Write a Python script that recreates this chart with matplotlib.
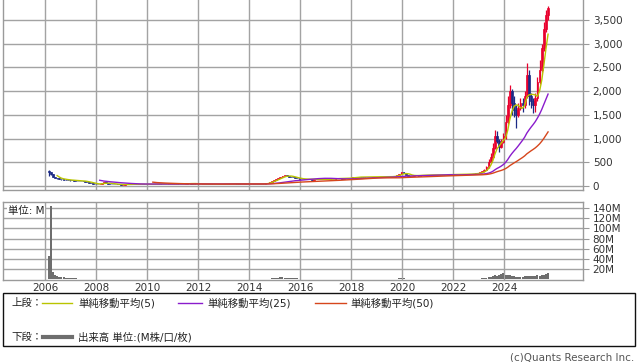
import numpy as np
import pandas as pd
import matplotlib
matplotlib.use('Agg')
import matplotlib.pyplot as plt
from matplotlib.patches import Rectangle
from matplotlib.lines import Line2D

plt.rcParams['font.family'] = ['DejaVu Sans', 'Noto Sans CJK JP']

# ---------------- data (monthly, Feb 2006 .. Sep 2025) ----------------
close_by_year = {
    2006: [300, 260, 200, 175, 160, 150, 140, 135, 130, 125, 120],
    2007: [118, 115, 112, 110, 105, 100, 95, 85, 70, 55, 45, 40],
    2008: [38, 45, 70, 75, 60, 50, 45, 40, 38, 35, 32, 30],
    2009: [30, 32, 35, 40, 42, 40, 38, 40, 42, 40, 38, 36],
    2010: [38, 40, 42, 45, 50, 48, 45, 42, 40, 40, 42, 44],
    2011: [45, 48, 42, 40, 42, 45, 55, 60, 52, 48, 45, 42],
    2012: [40, 42, 45, 44, 40, 38, 36, 35, 36, 38, 40, 42],
    2013: [45, 48, 50, 52, 48, 45, 44, 42, 43, 45, 44, 42],
    2014: [42, 40, 40, 38, 38, 40, 45, 55, 70, 90, 110, 130],
    2015: [150, 170, 190, 210, 230, 220, 200, 190, 180, 170, 160, 150],
    2016: [145, 140, 150, 145, 140, 135, 140, 145, 140, 138, 140, 142],
    2017: [140, 145, 150, 155, 160, 165, 160, 158, 160, 165, 170, 175],
    2018: [180, 185, 190, 195, 190, 185, 190, 195, 200, 195, 190, 195],
    2019: [195, 200, 195, 190, 195, 200, 205, 200, 210, 230, 260, 300],
    2020: [280, 240, 220, 210, 220, 230, 225, 220, 225, 230, 235, 230],
    2021: [230, 235, 240, 235, 230, 235, 240, 235, 240, 245, 240, 245],
    2022: [245, 240, 245, 250, 245, 250, 255, 250, 255, 260, 265, 280],
    2023: [290, 310, 340, 400, 500, 620, 800, 1050, 950, 820, 920, 1050],
    2024: [1350, 1700, 2000, 1750, 1600, 1500, 1650, 1750, 1700, 1900, 2350, 1900],
    2025: [1800, 1700, 1850, 2200, 2450, 2900, 3300, 3600, 3750],
}
first_open = 320

# wicks for the active period (other months: wick = body)
high_by_year = {
    2006: [330, 300, 260, 200, 175, 160, 150, 140, 135, 130, 125],
    2023: [300, 320, 360, 420, 560, 700, 900, 1180, 1150, 1000, 1000, 1120],
    2024: [1500, 1900, 2130, 2050, 1900, 1700, 1750, 1850, 1850, 2000, 2600, 2450],
    2025: [1950, 1850, 1950, 2300, 2650, 3000, 3460, 3700, 3800],
}
low_by_year = {
    2006: [210, 240, 190, 170, 150, 145, 135, 130, 125, 120, 115],
    2023: [260, 280, 300, 330, 390, 480, 600, 780, 900, 720, 800, 900],
    2024: [1000, 1300, 1650, 1500, 1450, 1220, 1450, 1600, 1550, 1650, 1850, 1700],
    2025: [1650, 1540, 1550, 1800, 2150, 2400, 2850, 3250, 3500],
}

volume_by_year = {  # millions
    2006: [45, 145, 14, 9, 7, 5, 4, 3.5, 3, 2.5, 2],
    2007: [2, 1.8, 1.5, 1.2, 1, 1, 0.8, 0.8, 0.7, 0.6, 0.6, 0.5],
    2008: [0.5, 0.6, 0.8, 0.7, 0.5, 0.4, 0.4, 0.3, 0.3, 0.3, 0.3, 0.3],
    2009: [0.3, 0.3, 0.3, 0.3, 0.3, 0.3, 0.3, 0.3, 0.3, 0.3, 0.3, 0.3],
    2010: [0.3, 0.3, 0.3, 0.3, 0.4, 0.3, 0.3, 0.3, 0.3, 0.3, 0.3, 0.3],
    2011: [0.3, 0.3, 0.3, 0.3, 0.3, 0.3, 0.4, 0.4, 0.3, 0.3, 0.3, 0.3],
    2012: [0.3, 0.3, 0.3, 0.3, 0.3, 0.3, 0.3, 0.3, 0.3, 0.3, 0.3, 0.3],
    2013: [0.3, 0.3, 0.3, 0.3, 0.3, 0.3, 0.3, 0.3, 0.3, 0.3, 0.3, 0.3],
    2014: [0.3, 0.3, 0.3, 0.3, 0.3, 0.3, 0.4, 0.5, 0.8, 1, 1.5, 2],
    2015: [2, 3, 4, 3.5, 3, 2.5, 3, 2.5, 2, 1.5, 1.5, 1.2],
    2016: [1, 1, 1, 0.8, 0.8, 0.7, 0.7, 0.6, 0.6, 0.6, 0.6, 0.6],
    2017: [0.6, 0.6, 0.6, 0.6, 0.6, 0.6, 0.6, 0.6, 0.6, 0.6, 0.6, 0.6],
    2018: [0.6, 0.6, 0.6, 0.6, 0.6, 0.6, 0.6, 0.6, 0.6, 0.6, 0.6, 0.6],
    2019: [0.6, 0.6, 0.6, 0.6, 0.6, 0.6, 0.7, 0.7, 0.8, 1.2, 1.5, 2],
    2020: [1.8, 1.2, 1, 0.8, 0.7, 0.7, 0.6, 0.6, 0.6, 0.6, 0.6, 0.6],
    2021: [0.6, 0.6, 0.6, 0.6, 0.6, 0.6, 0.6, 0.6, 0.6, 0.6, 0.6, 0.6],
    2022: [0.6, 0.6, 0.6, 0.6, 0.6, 0.6, 0.6, 0.6, 0.7, 0.7, 0.8, 0.9],
    2023: [1, 1.5, 2, 3, 4, 5, 7, 9, 6, 8, 10, 13],
    2024: [8, 9, 9, 6, 5.5, 5, 5, 5, 5, 5.5, 6, 6],
    2025: [6, 6.5, 7, 8, 7, 8, 9, 11, 12],
}

ma_periods = [5, 25, 50]
ma_colors = ['#b9c400', '#8a1ccc', '#d6461c']
year_ticks = list(range(2006, 2025, 2))
price_ticks = list(range(0, 3501, 500))
vol_ticks = list(range(20, 141, 20))

# ---------------- assemble ----------------
years = sorted(close_by_year)
close = np.concatenate([close_by_year[y] for y in years]).astype(float)
volume = np.concatenate([volume_by_year[y] for y in years]).astype(float)
n = len(close)
t = 2006 + (1 + np.arange(n) + 0.5) / 12.0
opn = np.concatenate([[first_open], close[:-1]])
high = np.maximum(opn, close)
low = np.minimum(opn, close)
idx = 0
for y in years:
    k = len(close_by_year[y])
    if y in high_by_year:
        high[idx:idx + k] = np.maximum(high[idx:idx + k], high_by_year[y])
        low[idx:idx + k] = np.minimum(low[idx:idx + k], low_by_year[y])
    idx += k

W, H = 638, 362
fig = plt.figure(figsize=(W / 100, H / 100), dpi=100)

def fx(x):
    return x / W

def fy(y):
    return 1 - y / H

grid_c = '#a3a3a3'
spine_c = '#9a9a9a'
txt_c = '#333333'
fs = 7.5

xlim = (2006 + (3 - 45.5) / 25.5, 2006 + (583 - 45.5) / 25.5)

ax = fig.add_axes([fx(3), fy(190), fx(580), 190 / H])
axv = fig.add_axes([fx(3), fy(280), fx(580), 78 / H])

up_c, dn_c = '#e8002d', '#1b2a85'
cols = [up_c if c >= o else dn_c for o, c in zip(opn, close)]
ax.vlines(t, low, high, colors=cols, linewidth=0.9, zorder=3)
ax.bar(t, np.abs(close - opn), bottom=np.minimum(opn, close), width=0.07,
       color=cols, edgecolor=cols, linewidth=0.5, zorder=3)

s = pd.Series(close)
for p, c in zip(ma_periods, ma_colors):
    ax.plot(t, s.rolling(p, min_periods=p).mean(), color=c, linewidth=1.0, zorder=4)

ax.set_xlim(*xlim)
ax.set_ylim(-84, 3920)
ax.set_yticks(price_ticks)
ax.set_yticklabels([f'{v:,}' for v in price_ticks])
ax.set_xticks(year_ticks)
ax.set_xticklabels([])
ax.yaxis.tick_right()
ax.tick_params(axis='y', direction='out', length=4, width=0.8, color=spine_c,
               labelsize=fs, labelcolor=txt_c, pad=3)
ax.tick_params(axis='x', length=0)
ax.grid(True, color=grid_c, linewidth=1.0, zorder=0)
ax.set_axisbelow(True)
for sp in ax.spines.values():
    sp.set_color(spine_c)
    sp.set_linewidth(1.0)
ax.spines['top'].set_visible(False)

axv.bar(t, volume, width=0.075, color='#6e6e6e', linewidth=0, zorder=3)
axv.set_xlim(*xlim)
axv.set_ylim(-1.5, 152)
axv.set_yticks(vol_ticks)
axv.set_yticklabels([f'{v}M' for v in vol_ticks])
axv.set_xticks(year_ticks)
axv.set_xticklabels([str(y) for y in year_ticks])
axv.yaxis.tick_right()
axv.tick_params(axis='y', direction='out', length=4, width=0.8, color=spine_c,
                labelsize=fs, labelcolor=txt_c, pad=3)
axv.tick_params(axis='x', length=0, labelsize=fs, labelcolor=txt_c, pad=2.5)
axv.grid(True, color=grid_c, linewidth=1.0, zorder=0)
axv.set_axisbelow(True)
for sp in axv.spines.values():
    sp.set_color(spine_c)
    sp.set_linewidth(1.0)
axv.text(0.009, 0.88, '単位: M', transform=axv.transAxes, fontsize=fs,
         color='#222222', ha='left', va='center', zorder=6,
         bbox=dict(facecolor='white', edgecolor='none', pad=0.5))

# ---------------- legend box ----------------
fig.add_artist(Rectangle((fx(3), fy(346)), fx(632), (346 - 293) / H,
                         transform=fig.transFigure, fill=False,
                         edgecolor='#111111', linewidth=1.0))
row1, row2 = 303, 337
fig.text(fx(11), fy(row1), '上段：', fontsize=fs, color='#222222', va='center')
legend_items = [('単純移動平均(5)', 42, 72, 78), ('単純移動平均(25)', 178, 202, 207),
                ('単純移動平均(50)', 315, 346, 350)]
for (lab, x0, x1, xt), c in zip(legend_items, ma_colors):
    fig.add_artist(Line2D([fx(x0), fx(x1)], [fy(row1), fy(row1)], color=c,
                          linewidth=1.0, transform=fig.transFigure))
    fig.text(fx(xt), fy(row1), lab, fontsize=fs, color='#222222', va='center')
fig.text(fx(11), fy(row2), '下段：', fontsize=fs, color='#222222', va='center')
fig.add_artist(Line2D([fx(43), fx(72)], [fy(row2), fy(row2)], color='#6e6e6e',
                      linewidth=3.0, transform=fig.transFigure))
fig.text(fx(78), fy(row2), '出来高 単位:(M株/口/枚)', fontsize=fs, color='#222222', va='center')

fig.text(fx(634), fy(357), '(c)Quants Research Inc.', fontsize=fs, color='#555555',
         ha='right', va='center')

fig.savefig('out.png', dpi=100, facecolor='white')
